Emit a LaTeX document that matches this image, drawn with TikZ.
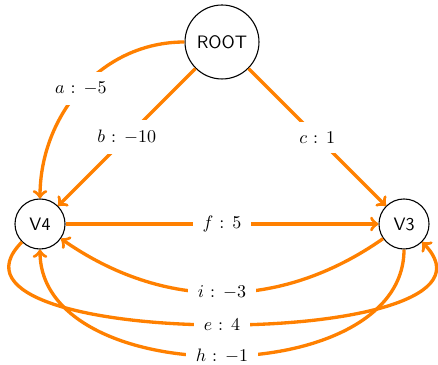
\documentclass[tikz,border=0pt]{standalone}
\usetikzlibrary{arrows}
\begin{document}
\begin{tikzpicture}[x=0.5556pt,y=0.5556pt,
  vertex/.style={circle,draw=black,line width=0.6pt,font=\sffamily,inner sep=0pt},
  edge/.style={->,draw=orange,line width=1.85pt},
  weight/.style={fill=white,inner sep=5.5pt,text=black}]
\useasboundingbox (0,0) rectangle (438,364);

% vertices
\node[vertex,minimum size=41.1pt] (root) at (222,322) {ROOT};
\node[vertex,minimum size=27.8pt] (v4) at (40,140) {V4};
\node[vertex,minimum size=27.8pt] (v3) at (404,140) {V3};

% weighted edges
\draw[edge] (root.west) to[out=180,in=90] node[weight] {$a$ : $-5$} (v4.north);
\draw[edge] (root) -- node[weight] {$b$ : $-10$} (v4);
\draw[edge] (root) -- node[weight] {$c$ : $1$} (v3);
\draw[edge] (v4) -- node[weight] {$f$ : $5$} (v3);
\draw[edge] (v3) to[bend left=35] node[weight] {$i$ : $-3$} (v4);
\draw[edge] (v4) to[out=225,in=-45,looseness=1] node[weight] {$e$ : $4$} (v3);
\draw[edge] (v3.south) to[out=-90,in=-90,looseness=1] node[weight] {$h$ : $-1$} (v4.south);
\end{tikzpicture}
\end{document}
